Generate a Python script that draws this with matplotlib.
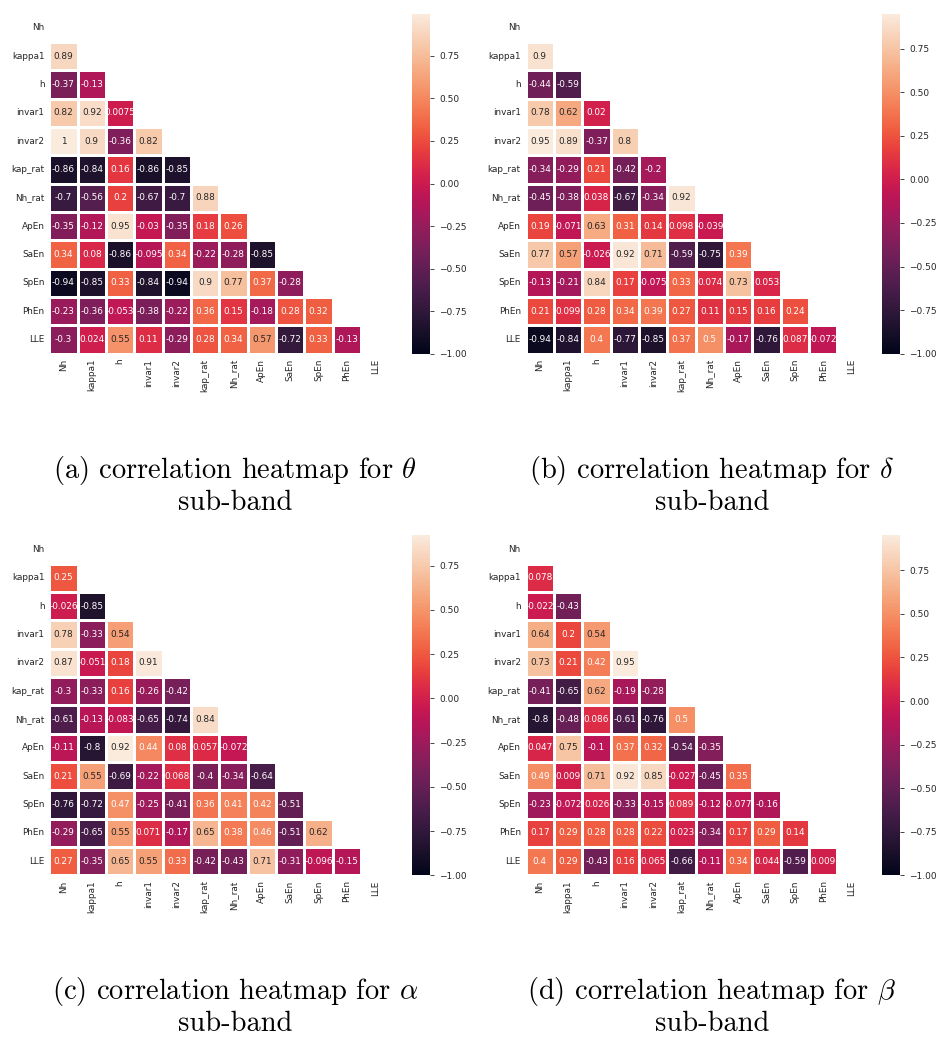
import numpy as np
import matplotlib

matplotlib.use('Agg')
import matplotlib.pyplot as plt
import seaborn as sns

labels = ['Nh', 'kappa1', 'h', 'invar1', 'invar2', 'kap_rat', 'Nh_rat',
          'ApEn', 'SaEn', 'SpEn', 'PhEn', 'LLE']

# lower triangle of each correlation matrix, one list per row (from kappa1 down)
theta_rows = [
    [0.89],
    [-0.37, -0.13],
    [0.82, 0.92, 0.0075],
    [0.998, 0.9, -0.36, 0.82],
    [-0.86, -0.84, 0.16, -0.86, -0.85],
    [-0.7, -0.56, 0.2, -0.67, -0.7, 0.88],
    [-0.35, -0.12, 0.95, -0.03, -0.35, 0.18, 0.26],
    [0.34, 0.08, -0.86, -0.095, 0.34, -0.22, -0.28, -0.85],
    [-0.94, -0.85, 0.33, -0.84, -0.94, 0.9, 0.77, 0.37, -0.28],
    [-0.23, -0.36, -0.053, -0.38, -0.22, 0.36, 0.15, -0.18, 0.28, 0.32],
    [-0.3, 0.024, 0.55, 0.11, -0.29, 0.28, 0.34, 0.57, -0.72, 0.33, -0.13],
]
delta_rows = [
    [0.9],
    [-0.44, -0.59],
    [0.78, 0.62, 0.02],
    [0.95, 0.89, -0.37, 0.8],
    [-0.34, -0.29, 0.21, -0.42, -0.2],
    [-0.45, -0.38, 0.038, -0.67, -0.34, 0.92],
    [0.19, -0.071, 0.63, 0.31, 0.14, 0.098, -0.039],
    [0.77, 0.57, -0.026, 0.92, 0.71, -0.59, -0.75, 0.39],
    [-0.13, -0.21, 0.84, 0.17, -0.075, 0.33, 0.074, 0.73, 0.053],
    [0.21, 0.099, 0.28, 0.34, 0.39, 0.27, 0.11, 0.15, 0.16, 0.24],
    [-0.94, -0.84, 0.4, -0.77, -0.85, 0.37, 0.5, -0.17, -0.76, 0.087, -0.072],
]
alpha_rows = [
    [0.25],
    [-0.026, -0.85],
    [0.78, -0.33, 0.54],
    [0.87, -0.051, 0.18, 0.91],
    [-0.3, -0.33, 0.16, -0.26, -0.42],
    [-0.61, -0.13, -0.083, -0.65, -0.74, 0.84],
    [-0.11, -0.8, 0.92, 0.44, 0.08, 0.057, -0.072],
    [0.21, 0.55, -0.69, -0.22, 0.068, -0.4, -0.34, -0.64],
    [-0.76, -0.72, 0.47, -0.25, -0.41, 0.36, 0.41, 0.42, -0.51],
    [-0.29, -0.65, 0.55, 0.071, -0.17, 0.65, 0.38, 0.46, -0.51, 0.62],
    [0.27, -0.35, 0.65, 0.55, 0.33, -0.42, -0.43, 0.71, -0.31, -0.096, -0.15],
]
beta_rows = [
    [0.078],
    [-0.022, -0.43],
    [0.64, 0.2, 0.54],
    [0.73, 0.21, 0.42, 0.95],
    [-0.41, -0.65, 0.62, -0.19, -0.28],
    [-0.8, -0.48, 0.086, -0.61, -0.76, 0.5],
    [0.047, 0.75, -0.1, 0.37, 0.32, -0.54, -0.35],
    [0.49, 0.009, 0.71, 0.92, 0.85, -0.027, -0.45, 0.35],
    [-0.23, -0.072, 0.026, -0.33, -0.15, 0.089, -0.12, -0.077, -0.16],
    [0.17, 0.29, 0.28, 0.28, 0.22, 0.023, -0.34, 0.17, 0.29, 0.14],
    [0.4, 0.29, -0.43, 0.16, 0.065, -0.66, -0.11, 0.34, 0.044, -0.59, 0.009],
]


def to_matrix(rows):
    n = len(labels)
    m = np.eye(n)
    for i, row in enumerate(rows):
        for j, v in enumerate(row):
            m[i + 1, j] = v
            m[j, i + 1] = v
    return m


sns.set_style('white')
plt.rcParams['mathtext.fontset'] = 'cm'

W, H = 939, 1038
fig = plt.figure(figsize=(W / 100, H / 100), dpi=100)

mask = np.triu(np.ones((len(labels), len(labels)), dtype=bool))
side = 340

# rows, tag, band symbol, heatmap left/top (px), colorbar left (px)
panels = [
    (theta_rows, 'a', r'\theta', 49.3, 13.7, 412),
    (delta_rows, 'b', r'\delta', 525.7, 13.7, 882),
    (alpha_rows, 'c', r'\alpha', 49.3, 535.4, 412),
    (beta_rows, 'd', r'\beta', 525.7, 535.4, 882),
]

for rows, tag, sym, x0, y0, cb_x in panels:
    ax = fig.add_axes([x0 / W, 1 - (y0 + side) / H, side / W, side / H])
    cax = fig.add_axes([cb_x / W, 1 - (y0 + side) / H, 18 / W, side / H])
    sns.heatmap(to_matrix(rows), mask=mask, vmin=-1, annot=True, fmt='.2g',
                linewidths=1, linecolor='white', xticklabels=labels,
                yticklabels=labels, ax=ax, cbar_ax=cax,
                annot_kws={'size': 6.4})
    ax.tick_params(labelsize=6.4, length=0)
    plt.setp(ax.get_xticklabels(), rotation=90)
    plt.setp(ax.get_yticklabels(), rotation=0)
    cax.tick_params(labelsize=6.5, length=3, width=0.6)

    # two-line caption under each panel
    cx = x0 + 186
    fig.text(cx / W, 1 - (y0 + 464) / H, f'({tag}) correlation heatmap for ${sym}$',
             ha='center', va='baseline', fontsize=20.5, family='cmr10', color='black')
    fig.text(cx / W, 1 - (y0 + 496) / H, 'sub-band',
             ha='center', va='baseline', fontsize=20.5, family='cmr10', color='black')

fig.savefig('out.png', dpi=100)
